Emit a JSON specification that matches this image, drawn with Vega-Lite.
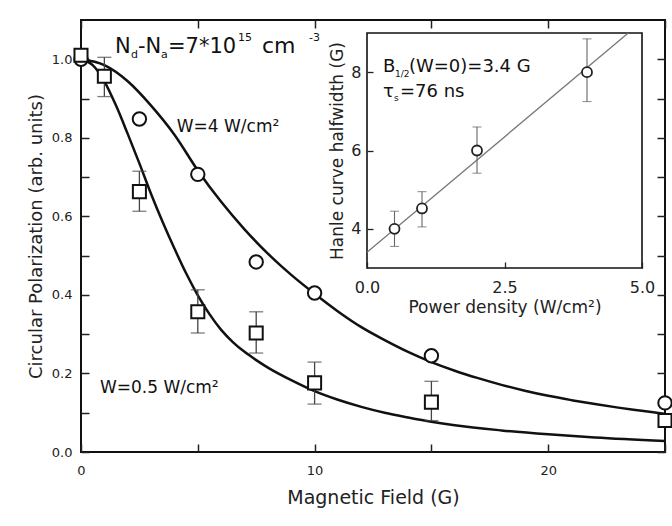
{
  "$schema": "https://vega.github.io/schema/vega-lite/v6.json",
  "width": 584,
  "height": 432,
  "autosize": {"type": "none"},
  "padding": {"left": 81, "top": 20, "right": 7, "bottom": 74},
  "background": "white",
  "config": {
    "font": "DejaVu Sans",
    "view": {"stroke": "#111", "strokeWidth": 2},
    "axis": {"labelColor": "#222", "titleColor": "#222", "tickColor": "#222", "domainColor": "#222", "grid": false, "labelFlush": false, "labelOverlap": false, "titleFontWeight": "normal"}
  },
  "datasets": {
    "curves": [
      {"series": "W=4", "x": 0, "y": 1.0}, {"series": "W=4", "x": 1, "y": 0.985}, {"series": "W=4", "x": 2, "y": 0.944},
      {"series": "W=4", "x": 3, "y": 0.882}, {"series": "W=4", "x": 4, "y": 0.808}, {"series": "W=4", "x": 5, "y": 0.717},
      {"series": "W=4", "x": 6, "y": 0.637}, {"series": "W=4", "x": 7, "y": 0.567}, {"series": "W=4", "x": 8, "y": 0.505},
      {"series": "W=4", "x": 9, "y": 0.451}, {"series": "W=4", "x": 10, "y": 0.403}, {"series": "W=4", "x": 11, "y": 0.358},
      {"series": "W=4", "x": 12, "y": 0.318}, {"series": "W=4", "x": 13, "y": 0.285}, {"series": "W=4", "x": 14, "y": 0.255},
      {"series": "W=4", "x": 15, "y": 0.229}, {"series": "W=4", "x": 16, "y": 0.207}, {"series": "W=4", "x": 17, "y": 0.188},
      {"series": "W=4", "x": 18, "y": 0.171}, {"series": "W=4", "x": 19, "y": 0.156}, {"series": "W=4", "x": 20, "y": 0.143},
      {"series": "W=4", "x": 21, "y": 0.132}, {"series": "W=4", "x": 22, "y": 0.122}, {"series": "W=4", "x": 23, "y": 0.113},
      {"series": "W=4", "x": 24, "y": 0.105}, {"series": "W=4", "x": 25, "y": 0.097},
      {"series": "W=0.5", "x": 0, "y": 1.0}, {"series": "W=0.5", "x": 0.5, "y": 0.985}, {"series": "W=0.5", "x": 1, "y": 0.944},
      {"series": "W=0.5", "x": 1.5, "y": 0.882}, {"series": "W=0.5", "x": 2, "y": 0.81}, {"series": "W=0.5", "x": 2.5, "y": 0.735},
      {"series": "W=0.5", "x": 3, "y": 0.657}, {"series": "W=0.5", "x": 3.5, "y": 0.585}, {"series": "W=0.5", "x": 4, "y": 0.518},
      {"series": "W=0.5", "x": 4.5, "y": 0.455}, {"series": "W=0.5", "x": 5, "y": 0.399}, {"series": "W=0.5", "x": 5.5, "y": 0.351},
      {"series": "W=0.5", "x": 6, "y": 0.311}, {"series": "W=0.5", "x": 6.5, "y": 0.28}, {"series": "W=0.5", "x": 7, "y": 0.255},
      {"series": "W=0.5", "x": 7.5, "y": 0.234}, {"series": "W=0.5", "x": 8, "y": 0.215}, {"series": "W=0.5", "x": 9, "y": 0.183},
      {"series": "W=0.5", "x": 10, "y": 0.155}, {"series": "W=0.5", "x": 11, "y": 0.133}, {"series": "W=0.5", "x": 12, "y": 0.115},
      {"series": "W=0.5", "x": 13, "y": 0.1}, {"series": "W=0.5", "x": 14, "y": 0.088}, {"series": "W=0.5", "x": 15, "y": 0.077},
      {"series": "W=0.5", "x": 16, "y": 0.068}, {"series": "W=0.5", "x": 18, "y": 0.055}, {"series": "W=0.5", "x": 20, "y": 0.045},
      {"series": "W=0.5", "x": 22, "y": 0.037}, {"series": "W=0.5", "x": 25, "y": 0.028}
    ],
    "points": [
      {"series": "W=4", "x": 0, "y": 1.0},
      {"series": "W=4", "x": 2.5, "y": 0.848},
      {"series": "W=4", "x": 5, "y": 0.707},
      {"series": "W=4", "x": 7.5, "y": 0.484},
      {"series": "W=4", "x": 10, "y": 0.405},
      {"series": "W=4", "x": 15, "y": 0.245},
      {"series": "W=4", "x": 25, "y": 0.125},
      {"series": "W=0.5", "x": 0, "y": 1.01},
      {"series": "W=0.5", "x": 1, "y": 0.957, "lo": 0.905, "hi": 1.005},
      {"series": "W=0.5", "x": 2.5, "y": 0.663, "lo": 0.613, "hi": 0.715},
      {"series": "W=0.5", "x": 5, "y": 0.357, "lo": 0.303, "hi": 0.413},
      {"series": "W=0.5", "x": 7.5, "y": 0.303, "lo": 0.252, "hi": 0.357},
      {"series": "W=0.5", "x": 10, "y": 0.176, "lo": 0.122, "hi": 0.229},
      {"series": "W=0.5", "x": 15, "y": 0.127, "lo": 0.08, "hi": 0.18},
      {"series": "W=0.5", "x": 25, "y": 0.08}
    ],
    "inset": [
      {"x": 0.5, "y": 4.0, "lo": 3.55, "hi": 4.45},
      {"x": 1.0, "y": 4.52, "lo": 4.05, "hi": 4.95},
      {"x": 2.0, "y": 6.0, "lo": 5.42, "hi": 6.6},
      {"x": 4.0, "y": 8.0, "lo": 7.25, "hi": 8.85}
    ],
    "fit": [
      {"x": 0, "y": 3.4},
      {"x": 4.75, "y": 9.0}
    ],
    "frame": [
      {"x0": 0, "x1": 5, "y0": 3, "y1": 9}
    ],
    "notes": [
      {"k": "w4", "t": "W=4 W/cm²", "x": 4.1, "y": 0.815},
      {"k": "w05", "t": "W=0.5 W/cm²", "x": 0.81, "y": 0.15},
      {"k": "nd", "t": "", "x": 1.455, "y": 1.016}
    ],
    "inotes": [
      {"k": "b", "x": 0.29, "y": 8.0},
      {"k": "tau", "x": 0.29, "y": 7.37}
    ]
  },
  "layer": [
    {
      "data": {"name": "curves"},
      "mark": {"type": "line", "color": "#111", "strokeWidth": 2.5, "interpolate": "monotone"},
      "encoding": {
        "x": {"field": "x", "type": "quantitative", "scale": {"domain": [0, 25], "nice": false, "zero": false},
          "axis": {"orient": "bottom", "values": [0, 5, 10, 15, 20, 25], "labelExpr": "datum.value % 10 === 0 ? datum.label : ''", "tickSize": -8, "tickWidth": 1.5, "labelPadding": 20, "labelFontSize": 13, "title": "Magnetic Field (G)", "titleFontSize": 19, "titlePadding": 11, "domain": false}},
        "y": {"field": "y", "type": "quantitative", "scale": {"domain": [0, 1.1], "nice": false, "zero": false},
          "axis": {"orient": "left", "values": [0, 0.1, 0.2, 0.3, 0.4, 0.5, 0.6, 0.7, 0.8, 0.9, 1.0], "labelExpr": "round(datum.value * 10) % 2 === 0 ? format(datum.value, '.1f') : ''", "tickSize": -8, "tickWidth": 1.5, "labelPadding": 17, "labelFontSize": 13, "title": "Circular Polarization (arb. units)", "titleFontSize": 18, "titlePadding": 6, "domain": false}},
        "detail": {"field": "series"}
      }
    },
    {
      "data": {"name": "points"},
      "transform": [{"filter": "isValid(datum.lo)"}],
      "mark": {"type": "errorbar", "color": "#444", "ticks": {"size": 14, "thickness": 1.3}, "rule": {"strokeWidth": 1.3}},
      "encoding": {
        "x": {"field": "x", "type": "quantitative", "scale": {"domain": [0, 25], "nice": false, "zero": false}, "axis": null},
        "y": {"field": "lo", "type": "quantitative", "scale": {"domain": [0, 1.1], "nice": false, "zero": false}, "axis": null},
        "y2": {"field": "hi"}
      }
    },
    {
      "data": {"name": "points"},
      "transform": [{"filter": "datum.series === 'W=4'"}],
      "mark": {"type": "point", "shape": "circle", "size": 180, "fill": "white", "stroke": "#111", "strokeWidth": 2, "opacity": 1},
      "encoding": {
        "x": {"field": "x", "type": "quantitative", "scale": {"domain": [0, 25], "nice": false, "zero": false},
          "axis": {"orient": "top", "values": [0, 5, 10, 15, 20, 25], "labels": false, "tickSize": -8, "tickWidth": 1.5, "domain": false, "title": null}},
        "y": {"field": "y", "type": "quantitative", "scale": {"domain": [0, 1.1], "nice": false, "zero": false},
          "axis": {"orient": "right", "values": [0, 0.1, 0.2, 0.3, 0.4, 0.5, 0.6, 0.7, 0.8, 0.9, 1.0], "labels": false, "tickSize": -8, "tickWidth": 1.5, "domain": false, "title": null}}
      }
    },
    {
      "data": {"name": "points"},
      "transform": [{"filter": "datum.series === 'W=0.5'"}],
      "mark": {"type": "point", "shape": "square", "size": 170, "fill": "white", "stroke": "#111", "strokeWidth": 2, "opacity": 1},
      "encoding": {
        "x": {"field": "x", "type": "quantitative", "scale": {"domain": [0, 25], "nice": false, "zero": false}, "axis": null},
        "y": {"field": "y", "type": "quantitative", "scale": {"domain": [0, 1.1], "nice": false, "zero": false}, "axis": null}
      }
    },
    {
      "data": {"name": "notes"},
      "transform": [{"filter": "datum.k !== 'nd'"}],
      "mark": {"type": "text", "align": "left", "baseline": "alphabetic", "fontSize": 17, "color": "#111"},
      "encoding": {
        "x": {"field": "x", "type": "quantitative", "scale": {"domain": [0, 25], "nice": false, "zero": false}, "axis": null},
        "y": {"field": "y", "type": "quantitative", "scale": {"domain": [0, 1.1], "nice": false, "zero": false}, "axis": null},
        "text": {"field": "t"}
      }
    },
    {
      "data": {"name": "notes"},
      "transform": [{"filter": "datum.k === 'nd'"}],
      "encoding": {
        "x": {"field": "x", "type": "quantitative", "scale": {"domain": [0, 25], "nice": false, "zero": false}, "axis": null},
        "y": {"field": "y", "type": "quantitative", "scale": {"domain": [0, 1.1], "nice": false, "zero": false}, "axis": null}
      },
      "layer": [
        {"mark": {"type": "text", "align": "left", "baseline": "alphabetic", "fontSize": 21, "color": "#111", "text": "N", "dx": 0}},
        {"mark": {"type": "text", "align": "left", "baseline": "alphabetic", "fontSize": 11, "color": "#111", "text": "d", "dx": 16, "dy": 5}},
        {"mark": {"type": "text", "align": "left", "baseline": "alphabetic", "fontSize": 21, "color": "#111", "text": "-N", "dx": 23}},
        {"mark": {"type": "text", "align": "left", "baseline": "alphabetic", "fontSize": 11, "color": "#111", "text": "a", "dx": 46, "dy": 5}},
        {"mark": {"type": "text", "align": "left", "baseline": "alphabetic", "fontSize": 21, "color": "#111", "text": "=7*10", "dx": 53}},
        {"mark": {"type": "text", "align": "left", "baseline": "alphabetic", "fontSize": 11, "color": "#111", "text": "15", "dx": 123, "dy": -12}},
        {"mark": {"type": "text", "align": "left", "baseline": "alphabetic", "fontSize": 22, "color": "#111", "text": "cm", "dx": 147}},
        {"mark": {"type": "text", "align": "left", "baseline": "alphabetic", "fontSize": 11, "color": "#111", "text": "-3", "dx": 194, "dy": -12}}
      ]
    },
    {
      "data": {"name": "frame"},
      "mark": {"type": "rect", "fill": "white", "stroke": "#111", "strokeWidth": 1.6},
      "encoding": {
        "x": {"field": "x0", "type": "quantitative", "scale": {"domain": [0, 5], "range": [286, 561], "nice": false, "zero": false},
          "axis": {"orient": "bottom", "offset": -184, "zindex": 1, "values": [0, 2.5, 5], "format": ".1f", "tickSize": -6, "tickWidth": 1.3, "labelPadding": 17, "labelFontSize": 16, "domain": false, "title": "Power density (W/cm²)", "titleFontSize": 17, "titlePadding": 4}},
        "x2": {"field": "x1"},
        "y": {"field": "y0", "type": "quantitative", "scale": {"domain": [3, 9], "range": [248, 13], "nice": false, "zero": false},
          "axis": {"orient": "left", "offset": -286, "zindex": 1, "values": [4, 6, 8], "tickSize": -6, "tickWidth": 1.3, "labelPadding": 12, "labelFontSize": 16, "domain": false, "title": "Hanle curve halfwidth (G)", "titleFontSize": 17, "titlePadding": 4}},
        "y2": {"field": "y1"}
      }
    },
    {
      "data": {"name": "fit"},
      "mark": {"type": "line", "color": "#777", "strokeWidth": 1.3},
      "encoding": {
        "x": {"field": "x", "type": "quantitative", "scale": {"domain": [0, 5], "range": [286, 561], "nice": false, "zero": false}, "axis": null},
        "y": {"field": "y", "type": "quantitative", "scale": {"domain": [3, 9], "range": [248, 13], "nice": false, "zero": false}, "axis": null}
      }
    },
    {
      "data": {"name": "inset"},
      "mark": {"type": "errorbar", "color": "#666", "ticks": {"size": 9, "thickness": 1.1}, "rule": {"strokeWidth": 1.1}},
      "encoding": {
        "x": {"field": "x", "type": "quantitative", "scale": {"domain": [0, 5], "range": [286, 561], "nice": false, "zero": false}, "axis": null},
        "y": {"field": "lo", "type": "quantitative", "scale": {"domain": [3, 9], "range": [248, 13], "nice": false, "zero": false}, "axis": null},
        "y2": {"field": "hi"}
      }
    },
    {
      "data": {"name": "inset"},
      "mark": {"type": "point", "shape": "circle", "size": 100, "fill": "white", "stroke": "#222", "strokeWidth": 1.8, "opacity": 1},
      "encoding": {
        "x": {"field": "x", "type": "quantitative", "scale": {"domain": [0, 5], "range": [286, 561], "nice": false, "zero": false}, "axis": null},
        "y": {"field": "y", "type": "quantitative", "scale": {"domain": [3, 9], "range": [248, 13], "nice": false, "zero": false}, "axis": null}
      }
    },
    {
      "data": {"name": "inotes"},
      "transform": [{"filter": "datum.k === 'b'"}],
      "encoding": {
        "x": {"field": "x", "type": "quantitative", "scale": {"domain": [0, 5], "range": [286, 561], "nice": false, "zero": false}, "axis": null},
        "y": {"field": "y", "type": "quantitative", "scale": {"domain": [3, 9], "range": [248, 13], "nice": false, "zero": false}, "axis": null}
      },
      "layer": [
        {"mark": {"type": "text", "align": "left", "baseline": "alphabetic", "fontSize": 18, "color": "#111", "text": "B", "dx": 0}},
        {"mark": {"type": "text", "align": "left", "baseline": "alphabetic", "fontSize": 9, "color": "#111", "text": "1/2", "dx": 12, "dy": 5}},
        {"mark": {"type": "text", "align": "left", "baseline": "alphabetic", "fontSize": 18, "color": "#111", "text": "(W=0)=3.4 G", "dx": 26}}
      ]
    },
    {
      "data": {"name": "inotes"},
      "transform": [{"filter": "datum.k === 'tau'"}],
      "encoding": {
        "x": {"field": "x", "type": "quantitative", "scale": {"domain": [0, 5], "range": [286, 561], "nice": false, "zero": false}, "axis": null},
        "y": {"field": "y", "type": "quantitative", "scale": {"domain": [3, 9], "range": [248, 13], "nice": false, "zero": false}, "axis": null}
      },
      "layer": [
        {"mark": {"type": "text", "align": "left", "baseline": "alphabetic", "fontSize": 18, "color": "#111", "text": "τ", "dx": 0}},
        {"mark": {"type": "text", "align": "left", "baseline": "alphabetic", "fontSize": 9, "color": "#111", "text": "s", "dx": 11, "dy": 4}},
        {"mark": {"type": "text", "align": "left", "baseline": "alphabetic", "fontSize": 18, "color": "#111", "text": "=76 ns", "dx": 17}}
      ]
    }
  ],
  "resolve": {
    "scale": {"x": "independent", "y": "independent"},
    "axis": {"x": "independent", "y": "independent"}
  }
}
